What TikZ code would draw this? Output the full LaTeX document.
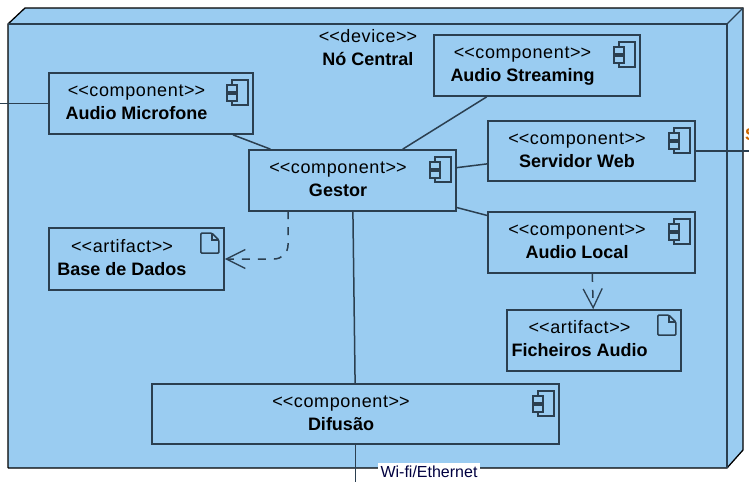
\documentclass[tikz,border=0pt]{standalone}
\usepackage{fontspec}
\setmainfont{Liberation Sans}
\usetikzlibrary{arrows.meta}
\definecolor{nodeblue}{HTML}{9ACCF1}
\definecolor{nodeline}{HTML}{2B3F50}
\newcommand{\stereo}[1]{\addfontfeature{LetterSpace=3.5}<\kern0pt<#1>\kern0pt>}
\newcommand{\boxtext}[2]{\begin{tabular}{@{}c@{}}\stereo{#1}\\\textbf{#2}\end{tabular}\kern29pt}
\tikzset{
  base font/.style={font=\fontsize{18}{23}\selectfont,text=black},
  umlbox/.style={draw=nodeline,line width=1.7pt,fill=nodeblue,inner sep=0pt,base font},
  link/.style={draw=nodeline,line width=1.5pt},
  dep/.style={link,dashed,dash pattern=on 8pt off 8pt,-{Straight Barb[length=19pt,width=19pt,line width=1.3pt]}},
  compicon/.pic={
    \draw[nodeline,line width=1.5pt] (-22,8) rectangle (-6,33);
    \draw[nodeline,line width=1.5pt,fill=nodeblue] (-27,13) rectangle (-17,20);
    \draw[nodeline,line width=1.5pt,fill=nodeblue] (-27,22) rectangle (-17,29);
  },
  docicon/.pic={
    \draw[nodeline,line width=1.5pt,rounded corners=1pt] (-24,6) -- (-13,6) -- (-6,13) -- (-6,26) -- (-24,26) -- cycle;
    \draw[nodeline,line width=1.5pt] (-13,6) -- (-13,13) -- (-6,13);
  }
}
\begin{document}
\begin{tikzpicture}[x=1pt,y=-1pt]
\useasboundingbox (0,0) rectangle (749,482);
\coordinate (F0) at (8,24);
\coordinate (F1) at (727,24);
\coordinate (F2) at (727,468);
\coordinate (F3) at (8,468);
\coordinate (B0) at (25,8);
\coordinate (B1) at (743,8);
\coordinate (B2) at (743,450);
\fill[nodeblue] (F0) -- (B0) -- (B1) -- (B2) -- (F2) -- (F3) -- cycle;
\draw[black,line width=1.3pt] (F3) -- (F0) -- (B0) -- (B1) -- (B2) -- (F2) -- (F3);
\draw[nodeline,line width=2pt] (F0) -- (F1) -- (F2);
\draw[nodeline,line width=1.2pt] (F1) -- (B1);
\node[inner sep=0pt,base font] (device) at (368,49) {\begin{tabular}{@{}c@{}}\stereo{device}\\\textbf{Nó Central}\end{tabular}};
\node[umlbox,minimum width=204pt,minimum height=61pt] (mic) at (151,103.5) {\boxtext{component}{Audio Microfone}};
\node[umlbox,minimum width=206pt,minimum height=61pt] (stream) at (537,65.5) {\boxtext{component}{Audio Streaming}};
\node[umlbox,minimum width=207pt,minimum height=60pt] (web) at (591.5,151) {\boxtext{component}{Servidor Web}};
\node[umlbox,minimum width=207pt,minimum height=61pt] (gestor) at (352.5,180.5) {\boxtext{component}{Gestor}};
\node[umlbox,minimum width=207pt,minimum height=61pt] (local) at (591.5,242.5) {\boxtext{component}{Audio Local}};
\node[umlbox,minimum width=175pt,minimum height=62pt] (dados) at (136.5,259) {\boxtext{artifact}{Base de Dados}};
\node[umlbox,minimum width=174pt,minimum height=61pt] (ficheiros) at (594,340.5) {\boxtext{artifact}{Ficheiros Audio}};
\node[umlbox,minimum width=407pt,minimum height=60pt] (difusao) at (355.5,414) {\boxtext{component}{Difusão}};
\pic at (mic.north east) {compicon};
\pic at (stream.north east) {compicon};
\pic at (web.north east) {compicon};
\pic at (gestor.north east) {compicon};
\pic at (local.north east) {compicon};
\pic at (difusao.north east) {compicon};
\pic at (dados.north east) {docicon};
\pic at (ficheiros.north east) {docicon};
\coordinate (micOut) at (0,103.5);
\coordinate (webOut) at (749,151);
\coordinate (difOut) at (355.5,482);
\coordinate (gestorDash) at (288,211);
\draw[link] (mic) -- (gestor);
\draw[link] (stream) -- (gestor);
\draw[link] (web) -- (gestor);
\draw[link] (local) -- (gestor);
\draw[link] (gestor) -- (difusao);
\draw[link] (mic.west) -- (micOut);
\draw[link] (web.east) -- (webOut);
\draw[link] (difusao.south) -- (difOut);
\draw[dep,rounded corners=14pt] (gestorDash) |- (dados.east);
\draw[dep] (local) -- (ficheiros);
\node[fill=white,inner sep=1pt,font=\fontsize{16}{18}\selectfont,text=black!75!blue,minimum width=102pt,minimum height=18pt] (wifi) at (429,472) {Wi-fi/Ethernet};
\node[anchor=west,inner sep=0pt,font=\fontsize{17}{20}\selectfont\bfseries,text=orange!80!black] (sOut) at (745,135) {S};
\end{tikzpicture}
\end{document}
